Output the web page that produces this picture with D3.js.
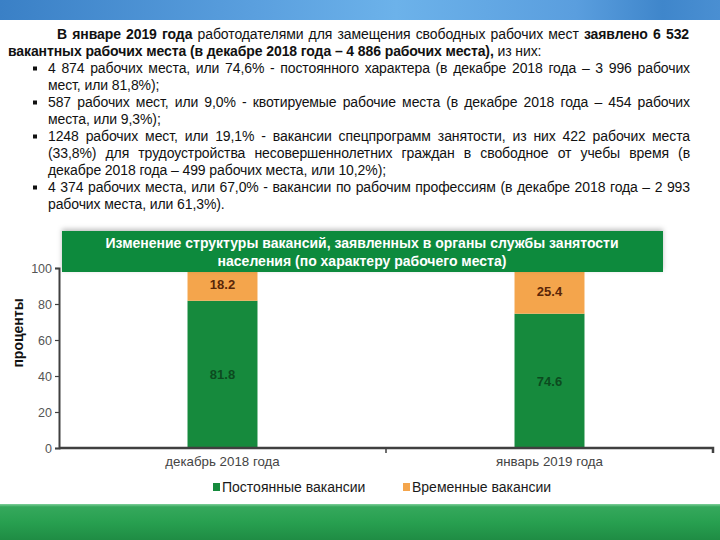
<!DOCTYPE html>
<html><head><meta charset="utf-8">
<script src="https://cdn.jsdelivr.net/npm/d3@7"></script>
<style>
body{margin:0;background:#fff;}
#wrap{position:relative;width:720px;height:540px;overflow:hidden;font-family:"Liberation Sans",Arial,sans-serif;}
svg{position:absolute;left:0;top:0;}
.ln{position:absolute;font-size:14px;line-height:17px;color:#111;white-space:normal;letter-spacing:-0.1px;}
.just{text-align:justify;text-align-last:justify;}
b{font-weight:bold;}
</style></head><body>
<div id="wrap"></div>
<script>
// ---- data ----
const categories = ["декабрь 2018 года", "январь 2019 года"];
const permanent = [81.8, 74.6];
const temporary = [18.2, 25.4];
const seriesNames = ["Постоянные вакансии", "Временные вакансии"];
const yTicks = [0, 20, 40, 60, 80, 100];
const chartTitle = ["Изменение структуры вакансий, заявленных в органы службы занятости", "населения (по характеру рабочего места)"];
const yTitle = "проценты";
// paragraph lines: [html, left, justified, bullet]
const textLines = [
  ["<b>В январе 2019 года</b> работодателями для замещения свободных рабочих мест <b>заявлено 6 532</b>", 57, true, false],
  ["<b>вакантных рабочих места (в декабре 2018 года – 4 886 рабочих места),</b> из них:", 8, false, false],
  ["4 874 рабочих места, или 74,6% - постоянного характера (в декабре 2018 года – 3 996 рабочих", 48, true, true],
  ["мест, или 81,8%);", 48, false, false],
  ["587 рабочих мест, или 9,0% - квотируемые рабочие места (в декабре 2018 года – 454 рабочих", 48, true, true],
  ["места, или 9,3%);", 48, false, false],
  ["1248 рабочих мест, или 19,1% - вакансии спецпрограмм занятости, из них 422 рабочих места", 48, true, true],
  ["(33,8%) для трудоустройства несовершеннолетних граждан в свободное от учебы время (в", 48, true, false],
  ["декабре 2018 года – 499 рабочих места, или 10,2%);", 48, false, false],
  ["4 374 рабочих места, или 67,0% - вакансии по рабочим профессиям (в декабре 2018 года – 2 993", 48, true, true],
  ["рабочих места, или 61,3%).", 48, false, false]
];

const W = 720, H = 540;
const FONT = "Liberation Sans, Arial, sans-serif";
const wrap = d3.select("#wrap");
const svg = wrap.append("svg").attr("width", W).attr("height", H);
const defs = svg.append("defs");

// top banner
const gb = defs.append("linearGradient").attr("id", "gBlue").attr("x1", "0").attr("x2", "1").attr("y1", "0").attr("y2", "0");
[[0, "#3a80c6"], [0.35, "#5a9fde"], [0.55, "#6cb2ea"], [0.8, "#5a9ede"], [0.92, "#3f86cb"], [1, "#4a8fd2"]]
  .forEach(s => gb.append("stop").attr("offset", s[0]).attr("stop-color", s[1]));
svg.append("rect").attr("x", 0).attr("y", 0).attr("width", W).attr("height", 20).attr("fill", "url(#gBlue)");

// bottom band
const gg = defs.append("linearGradient").attr("id", "gGreen").attr("x1", "0").attr("x2", "0").attr("y1", "0").attr("y2", "1");
[[0, "#7fcf9a"], [0.08, "#35a85c"], [0.5, "#28a050"], [1, "#1f8c44"]]
  .forEach(s => gg.append("stop").attr("offset", s[0]).attr("stop-color", s[1]));
svg.append("rect").attr("x", 0).attr("y", 504).attr("width", W).attr("height", 36).attr("fill", "url(#gGreen)");

// paragraph text
textLines.forEach((d, i) => {
  const top = 25.5 + i * 17;
  const right = d[1] === 57 ? 689 : 690;
  wrap.append("div").attr("class", "ln" + (d[2] ? " just" : ""))
    .style("left", d[1] + "px").style("top", top + "px")
    .style("width", (right - d[1]) + "px")
    .html(d[0]);
  if (d[3]) {
    svg.append("rect").attr("x", 33).attr("y", top + 7).attr("width", 4).attr("height", 4).attr("fill", "#111");
  }
});

// ---- chart ----
const x = d3.scaleBand().domain(categories).range([59, 713]).paddingInner(0.786).paddingOuter(0.393);
const y = d3.scaleLinear().domain([0, 100]).range([448, 268]);
const colors = ["#168a3d", "#f4a54c"];
const labelColors = ["#0c4a1f", "#5a2608"];

const table = categories.map((c, i) => ({ cat: c, permanent: permanent[i], temporary: temporary[i] }));
const stack = d3.stack().keys(["permanent", "temporary"])(table);

const g = svg.append("g");
stack.forEach((layer, li) => {
  g.selectAll(null).data(layer).enter().append("rect")
    .attr("x", d => x(d.data.cat)).attr("width", x.bandwidth())
    .attr("y", d => y(d[1])).attr("height", d => y(d[0]) - y(d[1]))
    .attr("fill", colors[li]);
  g.selectAll(null).data(layer).enter().append("text")
    .attr("x", d => x(d.data.cat) + x.bandwidth() / 2)
    .attr("y", d => (y(d[0]) + y(d[1])) / 2 + 5)
    .attr("text-anchor", "middle").attr("font-size", 13).attr("font-weight", "bold")
    .attr("font-family", FONT)
    .attr("fill", labelColors[li])
    .text(d => (d[1] - d[0]).toFixed(1));
});

// y axis
const yAxis = g.append("g").attr("transform", "translate(59,0)")
  .call(d3.axisLeft(y).tickValues(yTicks).tickSize(4).tickPadding(3));
yAxis.select(".domain").attr("stroke", "#404040").attr("stroke-width", 2);
yAxis.selectAll(".tick line").attr("stroke", "#404040").attr("stroke-width", 1.2);
yAxis.selectAll(".tick text").attr("font-size", 12.5).attr("fill", "#555")
  .attr("font-family", FONT);

// x axis
const xAxis = g.append("g").attr("transform", "translate(0,448)")
  .call(d3.axisBottom(x).tickSize(0).tickPadding(9));
xAxis.select(".domain").attr("stroke", "#404040").attr("stroke-width", 2.5)
  .attr("d", "M59,0H713V5");
xAxis.selectAll(".tick text").attr("font-size", 13.3).attr("fill", "#444")
  .attr("font-family", FONT);
// category boundary tick
const mid = x.range()[0] + (x.range()[1] - x.range()[0]) / 2;
g.append("line").attr("x1", mid).attr("x2", mid)
  .attr("y1", 448).attr("y2", 453).attr("stroke", "#404040").attr("stroke-width", 1.5);

// y title
svg.append("text").attr("transform", "translate(23,333) rotate(-90)")
  .attr("text-anchor", "middle").attr("font-size", 14).attr("font-weight", "bold")
  .attr("font-family", FONT).attr("fill", "#111")
  .text(yTitle);

// title box
const gs = defs.append("filter").attr("id", "sh").attr("x", "-5%").attr("y", "-30%").attr("width", "110%").attr("height", "160%");
gs.append("feDropShadow").attr("dx", 0).attr("dy", -2).attr("stdDeviation", 2.5).attr("flood-color", "#000").attr("flood-opacity", 0.25);
svg.append("rect").attr("x", 62).attr("y", 231).attr("width", 601).attr("height", 41)
  .attr("fill", "#0f8a3c").attr("filter", "url(#sh)");
chartTitle.forEach((t, i) => {
  svg.append("text").attr("x", 362).attr("y", 247.5 + i * 18)
    .attr("text-anchor", "middle").attr("font-size", 14).attr("font-weight", "bold")
    .attr("font-family", FONT).attr("fill", "#fff")
    .text(t);
});

// legend
const legX = [213, 403];
seriesNames.forEach((n, i) => {
  svg.append("rect").attr("x", legX[i]).attr("y", 483).attr("width", 7).attr("height", 8).attr("fill", colors[i]);
  svg.append("text").attr("x", legX[i] + 9).attr("y", 492).attr("font-size", 14)
    .attr("font-family", FONT).attr("fill", "#1a1a1a").text(n);
});
</script>
</body></html>
